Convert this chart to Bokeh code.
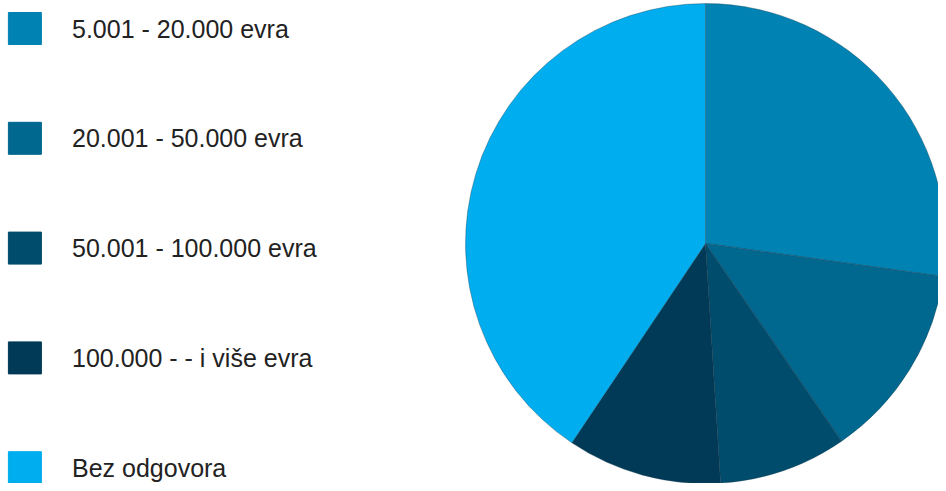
import numpy as np
from bokeh.plotting import figure
from bokeh.models import ColumnDataSource, Range1d
from bokeh.core.properties import value
from bokeh.embed import file_html
from bokeh.resources import INLINE

# ---- data ----
categories = ["5.001 - 20.000 evra", "20.001 - 50.000 evra", "50.001 - 100.000 evra",
              "100.000 - - i više evra", "Bez odgovora"]
shares = [27.2, 13.2, 8.6, 10.4, 40.6]
colors = ["#0083B3", "#00678F", "#004C6C", "#003A56", "#00ADEE"]

W, H = 938, 483
p = figure(width=W, height=H, output_backend="svg", toolbar_location=None,
           x_range=Range1d(0, W), y_range=Range1d(0, H), min_border=0)
p.axis.visible = False
p.grid.visible = False
p.outline_line_color = None
p.background_fill_color = "white"
p.border_fill_color = "white"

# pie wedges, clockwise from 12 o'clock
vals = np.array(shares, dtype=float)
frac = vals / vals.sum()
cum = np.concatenate([[0], np.cumsum(frac)])
start = np.pi / 2 - 2 * np.pi * cum[1:]
end = np.pi / 2 - 2 * np.pi * cum[:-1]
cx, cy, r = 705, H - 243, 240
pie = ColumnDataSource(dict(start=start, end=end, color=colors,
                            x=[cx] * len(vals), y=[cy] * len(vals)))
p.wedge(x="x", y="y", radius=r, radius_units="screen", start_angle="start", end_angle="end",
        direction="anticlock", fill_color="color", line_color="#1d3d50", line_alpha=0.45,
        line_width=0.8, source=pie)

# legend (manual)
n = len(categories)
top, step = 28.0, 109.8
ly = [H - (top + i * step) for i in range(n)]
leg = ColumnDataSource(dict(x=[24.4] * n, tx=[71.5] * n, y=ly, color=colors, label=categories))
p.rect(x="x", y="y", width=33, height=32, width_units="screen", height_units="screen",
       fill_color="color", line_color="color", source=leg)
p.text(x="tx", y="y", text="label", text_font=value("Liberation Sans"), text_font_size="25px",
       text_color="#222222", text_baseline="middle", text_align="left", source=leg)

open("out.html", "w").write(file_html(p, INLINE))
